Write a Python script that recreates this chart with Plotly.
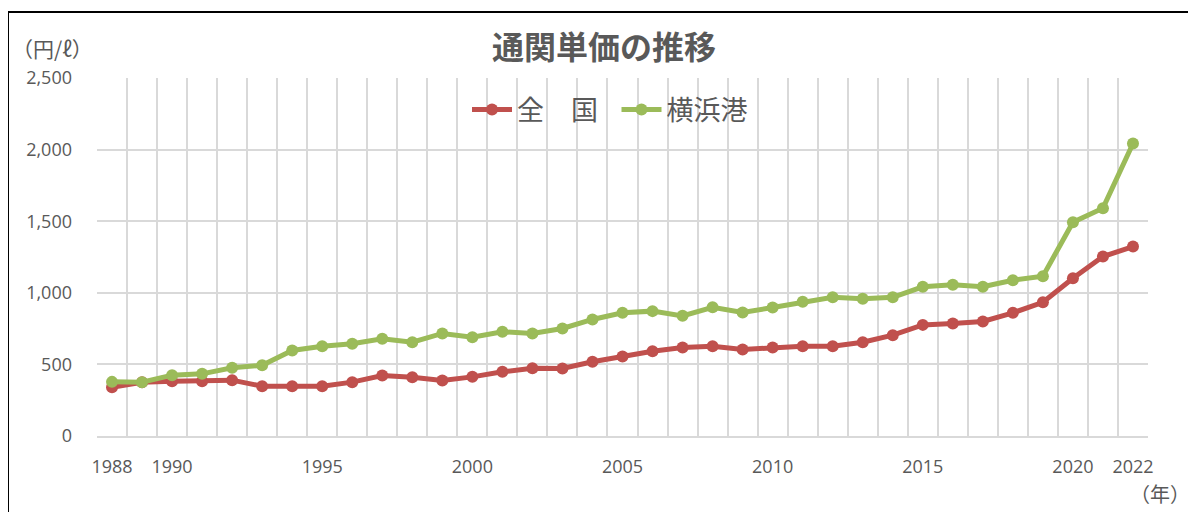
import plotly.graph_objects as go

years = list(range(1988, 2023))
zenkoku = [340, 375, 383, 383, 390, 348, 348, 348, 376, 422, 411, 388, 413, 448, 473, 471,
           518, 555, 592, 618, 627, 604, 618, 627, 627, 655, 704, 776, 786, 800, 860, 934,
           1102, 1253, 1323]
yokohama = [378, 375, 425, 434, 476, 494, 597, 627, 644, 679, 655, 716, 690, 728, 716, 751,
            814, 860, 872, 839, 899, 862, 897, 937, 969, 958, 969, 1042, 1056, 1042, 1088, 1116,
            1493, 1591, 2043]
xtick_years = [1988, 1990, 1995, 2000, 2005, 2010, 2015, 2020, 2022]
y_ticks = [0, 500, 1000, 1500, 2000, 2500]

# the page body has an 8px margin, so draw everything 8px up/left
OFF = 8
W, H = 1196 - OFF, 512 - OFF
L, R, T, B = 97 - OFF, 48, 78 - OFF, 76
font_jp = "Noto Sans CJK JP"
font_num = "Open Sans"
txt = "#595959"
grid = "#d9d9d9"
pw, ph = W - L - R, H - T - B


def px(x):
    return (x - OFF - L) / pw


def py(y):
    return (H - B - (y - OFF)) / ph


fig = go.Figure()
fig.add_trace(go.Scatter(x=years, y=zenkoku, name="全　国\u2002", mode="lines+markers",
                         line=dict(color="#C0504D", width=5),
                         marker=dict(size=12, color="#C0504D")))
fig.add_trace(go.Scatter(x=years, y=yokohama, name="横浜港", mode="lines+markers",
                         line=dict(color="#9BBB59", width=5),
                         marker=dict(size=12, color="#9BBB59")))

# gridlines sit between categories, like an Excel category axis
bounds = [y - 0.5 for y in years] + [years[-1] + 0.5]

fig.update_xaxes(range=[years[0] - 0.5, years[-1] + 0.5], tickvals=xtick_years,
                 ticktext=[str(y) for y in xtick_years], showgrid=False,
                 minor=dict(tickvals=bounds, showgrid=True, gridcolor=grid, gridwidth=1.5),
                 showline=True, linecolor=grid, linewidth=1.5, zeroline=False,
                 automargin=False, ticklabelstandoff=14,
                 tickfont=dict(size=18, color=txt, family=font_num))
fig.update_yaxes(range=[0, 2500], tickvals=y_ticks, tickformat=",", showgrid=True,
                 gridcolor=grid, gridwidth=1.5, zeroline=False, automargin=False,
                 ticklabelstandoff=24, tickfont=dict(size=18, color=txt, family=font_num))

fig.add_shape(type="rect", xref="paper", yref="paper",
              x0=px(8), x1=px(1230), y0=py(540), y1=py(12),
              line=dict(color="black", width=2), layer="below")

fig.add_annotation(text="（円/ℓ）", xref="paper", yref="paper",
                   x=px(10), y=py(48), xanchor="left", yanchor="middle",
                   showarrow=False, font=dict(size=21, color=txt, family=font_jp))
fig.add_annotation(text="（年）", xref="paper", yref="paper",
                   x=px(1192), y=py(493), xanchor="right", yanchor="middle",
                   showarrow=False, font=dict(size=20, color=txt, family=font_jp))

fig.update_layout(
    width=W, height=H,
    margin=dict(l=L, r=R, t=T, b=B),
    paper_bgcolor="white", plot_bgcolor="white",
    title=dict(text="<b>通関単価の推移</b>", x=(604 - OFF) / W, xanchor="center",
               y=1 - (48 - OFF) / H, yanchor="middle",
               font=dict(size=32, color=txt, family=font_jp)),
    legend=dict(orientation="h", x=px(610), xanchor="center",
                y=py(110), yanchor="middle", bgcolor="rgba(0,0,0,0)",
                font=dict(size=27, color=txt, family=font_jp), itemwidth=40),
    font=dict(family=font_jp, color=txt),
    showlegend=True,
)

fig.write_html("out.html")
